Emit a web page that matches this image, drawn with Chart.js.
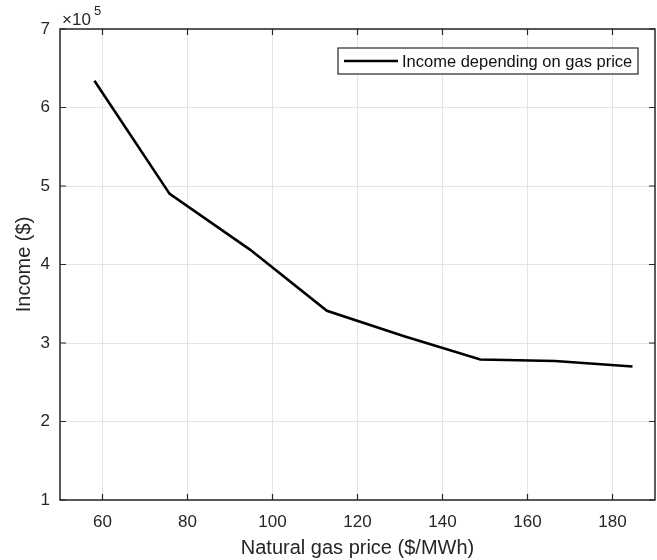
<!DOCTYPE html>
<html>
<head>
<meta charset="utf-8">
<script src="https://cdn.jsdelivr.net/npm/chart.js@4/dist/chart.umd.min.js"></script>
<style>
  html, body { margin: 0; padding: 0; background: #fff; }
  #wrap { width: 657px; height: 560px; }
</style>
</head>
<body>
<div id="wrap"><canvas id="income"></canvas></div>
<script>
// gas price ($/MWh) and income ($)
const gasPrice = [58.1, 75.8, 94.7, 112.8, 130.8, 148.9, 166.5, 184.7];
const income = [634000, 490000, 419000, 341000, 309000, 279000, 277000, 270000];
const xTicks = [60, 80, 100, 120, 140, 160, 180];
const yTicks = [1, 2, 3, 4, 5, 6, 7];

const FONT = '"Liberation Sans", Arial, Helvetica, sans-serif';
const TEXT = '#262626';

// box, inward ticks, x10^5 note and the legend, matlab style
const matlabFrame = {
  id: 'matlabFrame',
  afterDraw(chart) {
    const ctx = chart.ctx;
    const a = chart.chartArea;
    const xs = chart.scales.x, ys = chart.scales.y;
    ctx.save();
    ctx.strokeStyle = '#262626';
    ctx.lineWidth = 1.5;
    ctx.strokeRect(a.left, a.top, a.right - a.left, a.bottom - a.top);
    ctx.lineWidth = 1.2;
    ctx.beginPath();
    xTicks.forEach(v => {
      const px = xs.getPixelForValue(v);
      ctx.moveTo(px, a.bottom); ctx.lineTo(px, a.bottom - 6);
      ctx.moveTo(px, a.top); ctx.lineTo(px, a.top + 6);
    });
    yTicks.forEach(v => {
      const py = ys.getPixelForValue(v * 1e5);
      ctx.moveTo(a.left, py); ctx.lineTo(a.left + 6, py);
      ctx.moveTo(a.right, py); ctx.lineTo(a.right - 6, py);
    });
    ctx.stroke();

    // exponent note
    ctx.fillStyle = TEXT;
    ctx.textBaseline = 'alphabetic';
    ctx.textAlign = 'left';
    ctx.font = '17px ' + FONT;
    ctx.fillText('\u00d710', a.left + 2, a.top - 4);
    ctx.font = '13px ' + FONT;
    ctx.fillText('5', a.left + 34, a.top - 14);

    // legend
    const ds = chart.data.datasets[0];
    const lx = 338, ly = 48, lw = 300, lh = 26;
    ctx.fillStyle = '#fff';
    ctx.fillRect(lx, ly, lw, lh);
    ctx.strokeStyle = '#262626';
    ctx.lineWidth = 1.2;
    ctx.strokeRect(lx, ly, lw, lh);
    ctx.strokeStyle = ds.borderColor;
    ctx.lineWidth = ds.borderWidth;
    ctx.beginPath();
    ctx.moveTo(lx + 6, ly + lh / 2);
    ctx.lineTo(lx + 60, ly + lh / 2);
    ctx.stroke();
    ctx.fillStyle = '#111';
    ctx.font = '16.5px ' + FONT;
    ctx.textBaseline = 'middle';
    ctx.fillText(ds.label, lx + 64, ly + lh / 2 + 1);
    ctx.restore();
  }
};

new Chart(document.getElementById('income'), {
  type: 'line',
  data: {
    datasets: [{
      label: 'Income depending on gas price',
      data: gasPrice.map((g, i) => ({ x: g, y: income[i] })),
      borderColor: '#000',
      borderWidth: 2.6,
      pointRadius: 0,
      tension: 0,
      fill: false
    }]
  },
  options: {
    responsive: true,
    maintainAspectRatio: false,
    animation: false,
    layout: { padding: { top: 29, right: 2, left: 0, bottom: 0 } },
    plugins: { legend: { display: false }, tooltip: { enabled: false } },
    scales: {
      x: {
        type: 'linear',
        min: 50,
        max: 190,
        afterBuildTicks: s => { s.ticks = xTicks.map(v => ({ value: v })); },
        afterFit: s => { s.height = 60; },
        border: { display: false },
        grid: { color: '#e4e4e4', lineWidth: 1, drawTicks: false },
        ticks: { padding: 12, color: TEXT, font: { family: FONT, size: 17 } },
        title: {
          display: true,
          text: 'Natural gas price ($/MWh)',
          color: TEXT,
          font: { family: FONT, size: 20 },
          padding: { top: 2, bottom: 0 }
        }
      },
      y: {
        min: 100000,
        max: 700000,
        afterBuildTicks: s => { s.ticks = yTicks.map(v => ({ value: v * 1e5 })); },
        afterFit: s => { s.width = 60; },
        border: { display: false },
        grid: { color: '#e4e4e4', lineWidth: 1, drawTicks: false },
        ticks: {
          padding: 10,
          color: TEXT,
          font: { family: FONT, size: 17 },
          callback: v => v / 1e5
        },
        title: {
          display: true,
          text: 'Income ($)',
          color: TEXT,
          font: { family: FONT, size: 20 },
          padding: { top: 12, bottom: 0 }
        }
      }
    }
  },
  plugins: [matlabFrame]
});
</script>
</body>
</html>
